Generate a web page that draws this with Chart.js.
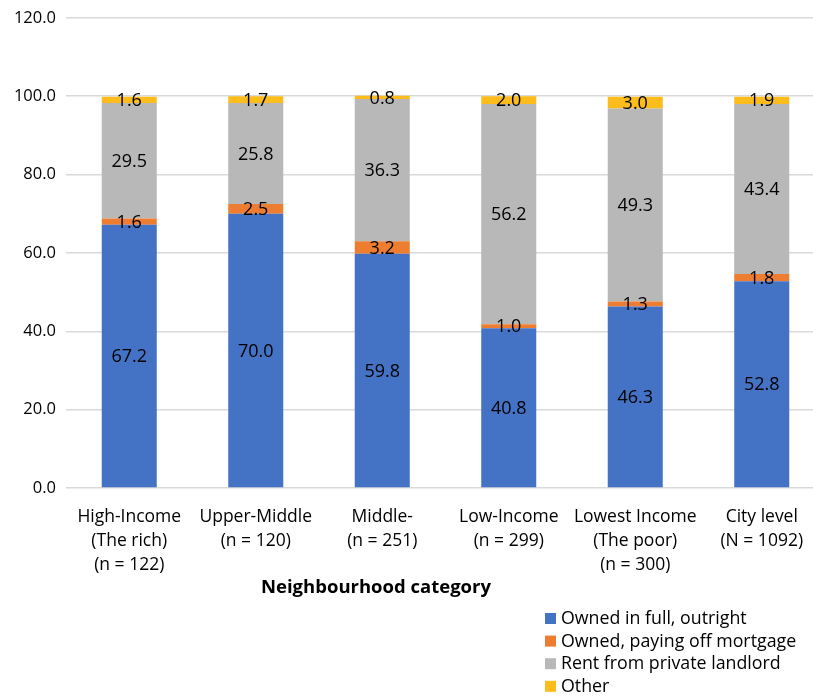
<!DOCTYPE html>
<html>
<head>
<meta charset="utf-8">
<script src="https://cdn.jsdelivr.net/npm/chart.js@4/dist/chart.umd.min.js"></script>
<style>
  html, body { margin: 0; padding: 0; background: #fff; overflow: hidden; }
  #wrap { width: 813px; height: 697px; overflow: hidden; position: relative; }
  #box { width: 830px; height: 699px; position: absolute; left: 0; top: -2px; }
</style>
</head>
<body>
<div id="wrap"><div id="box"><canvas id="tenureChart"></canvas></div></div>
<script>
// Neighbourhood categories (multi-line tick labels)
const categories = [
    ['High-Income', '(The rich)', '(n = 122)'],
    ['Upper-Middle', '(n = 120)'],
    ['Middle-', '(n = 251)'],
    ['Low-Income', '(n = 299)'],
    ['Lowest Income', '(The poor)', '(n = 300)'],
    ['City level', '(N = 1092)']
];

const ownedOutright = [67.2, 70.0, 59.8, 40.8, 46.3, 52.8];
const ownedMortgage = [1.6, 2.5, 3.2, 1.0, 1.3, 1.8];
const rentPrivate = [29.5, 25.8, 36.3, 56.2, 49.3, 43.4];
const otherTenure = [1.6, 1.7, 0.8, 2.0, 3.0, 1.9];

const seriesNames = ['Owned in full, outright', 'Owned, paying off mortgage', 'Rent from private landlord', 'Other'];
const yTicks = [0, 20, 40, 60, 80, 100, 120];

const FONT = "'Open Sans', 'Liberation Sans', sans-serif";

// Value labels centred on each segment, plus x title and legend
const decorations = {
    id: 'decorations',
    afterDatasetsDraw(chart) {
        const ctx = chart.ctx;
        ctx.save();
        ctx.fillStyle = '#000';
        ctx.textAlign = 'center';
        ctx.textBaseline = 'middle';
        ctx.font = '18px ' + FONT;
        chart.data.datasets.forEach((ds, i) => {
            const meta = chart.getDatasetMeta(i);
            meta.data.forEach((bar, j) => {
                const mid = (bar.y + bar.base) / 2;
                ctx.fillText(ds.data[j].toFixed(1), bar.x, mid + 1);
            });
        });

        // axis title (canvas is shifted up by 2px)
        ctx.font = 'bold 18.5px ' + FONT;
        ctx.fillText('Neighbourhood category', 376, 590);

        // legend
        ctx.textAlign = 'left';
        ctx.font = '17.8px ' + FONT;
        chart.data.datasets.forEach((ds, i) => {
            const y = 620 + i * 22.6;
            ctx.fillStyle = ds.backgroundColor;
            ctx.fillRect(545, y - 5, 11, 11);
            ctx.fillStyle = '#000';
            ctx.fillText(ds.label, 561, y + 1);
        });
        ctx.restore();
    }
};

const colours = ['#4472c4', '#ed7d31', '#b8b8b8', '#fbbc1c'];
const values = [ownedOutright, ownedMortgage, rentPrivate, otherTenure];

const ctx = document.getElementById('tenureChart').getContext('2d');
new Chart(ctx, {
    type: 'bar',
    data: {
        labels: categories,
        datasets: values.map((v, i) => ({
            label: seriesNames[i],
            data: v,
            backgroundColor: colours[i],
            borderWidth: 0,
            categoryPercentage: 1,
            barPercentage: 0.435
        }))
    },
    options: {
        responsive: true,
        maintainAspectRatio: false,
        animation: false,
        layout: { padding: { top: 14, right: 5, left: 0, bottom: 0 } },
        scales: {
            x: {
                stacked: true,
                grid: { display: false },
                border: { display: false },
                ticks: {
                    color: '#000',
                    font: { family: FONT, size: 17.5, lineHeight: 1.37 },
                    padding: 9,
                    maxRotation: 0,
                    autoSkip: false
                },
                afterFit: s => { s.height = 209; }
            },
            y: {
                stacked: true,
                min: 0,
                max: 120,
                afterBuildTicks: s => { s.ticks = yTicks.map(v => ({ value: v })); },
                grid: { color: '#d9d9d9', lineWidth: 1.5, drawTicks: false },
                border: { display: false },
                ticks: {
                    color: '#000',
                    font: { family: FONT, size: 16.5 },
                    padding: 10,
                    callback: v => v.toFixed(1)
                },
                afterFit: s => { s.width = 66; }
            }
        },
        plugins: {
            legend: { display: false },
            tooltip: { enabled: false }
        }
    },
    plugins: [decorations]
});
</script>
</body>
</html>
